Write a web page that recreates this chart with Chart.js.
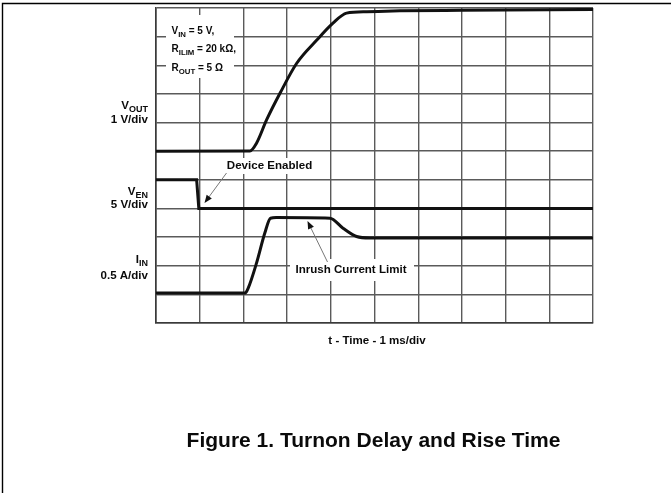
<!DOCTYPE html>
<html>
<head>
<meta charset="utf-8">
<script src="https://cdn.jsdelivr.net/npm/chart.js@4"></script>
<style>
  html, body { margin: 0; padding: 0; background: #fff; }
  canvas { display: block; }
</style>
</head>
<body>
<canvas id="scope" width="671" height="493"></canvas>
<script>
// time in ms (1 ms/div), values in physical units
const timeVout = [0, 2.15, 2.30, 2.53, 2.84, 3.22, 3.68, 4.05, 4.36, 4.82, 5.58, 7.0, 10];
const vOut     = [0, 0.01, 0.28, 1.09, 2.03, 3.07, 3.88, 4.47, 4.82, 4.87, 4.90, 4.92, 4.95];

const timeEn = [0, 0.93, 0.98, 10];
const vEn    = [5, 5, 0, 0];

const timeIn = [0, 2.04, 2.11, 2.30, 2.49, 2.62, 2.75, 3.98, 4.28, 4.59, 4.89, 10];
const iIn    = [0.025, 0.025, 0.11, 0.545, 1.07, 1.33, 1.34, 1.33, 1.155, 1.01, 0.985, 0.985];

// channel zero position (div) and scale (units per div)
const chZeroDiv = [6, 4, 1];
const chPerDiv  = [1, 5, 0.5];

const FONT = '"Liberation Sans", Arial, Helvetica, sans-serif';

function toDiv(times, vals, ch) {
    return times.map((t, i) => ({ x: t, y: chZeroDiv[ch] + vals[i] / chPerDiv[ch] }));
}

// bold text with optional subscripts, horizontally scaled by sx
function drawRich(ctx, parts, x, y, align, size, sx) {
    const subSize = size * 0.78;
    let total = 0;
    parts.forEach(p => {
        ctx.font = 'bold ' + (p[1] ? subSize : size) + 'px ' + FONT;
        total += ctx.measureText(p[0]).width * sx;
    });
    let cx = align === 'right' ? x - total : align === 'center' ? x - total / 2 : x;
    ctx.fillStyle = '#0a0a0a';
    ctx.textBaseline = 'alphabetic';
    ctx.textAlign = 'left';
    parts.forEach(p => {
        ctx.font = 'bold ' + (p[1] ? subSize : size) + 'px ' + FONT;
        const w = ctx.measureText(p[0]).width * sx;
        ctx.save();
        ctx.translate(cx, y + (p[1] ? size * 0.28 : 0));
        ctx.scale(sx, 1);
        ctx.fillText(p[0], 0, 0);
        ctx.restore();
        cx += w;
    });
}

function arrow(ctx, x1, y1, x2, y2) {
    const a = Math.atan2(y2 - y1, x2 - x1);
    const len = 8, hw = 3.2;
    ctx.save();
    ctx.strokeStyle = '#777';
    ctx.lineWidth = 1;
    ctx.beginPath();
    ctx.moveTo(x1, y1);
    ctx.lineTo(x2 - Math.cos(a) * len * 0.8, y2 - Math.sin(a) * len * 0.8);
    ctx.stroke();
    ctx.fillStyle = '#111';
    ctx.beginPath();
    ctx.moveTo(x2, y2);
    ctx.lineTo(x2 - Math.cos(a) * len - Math.sin(a) * hw, y2 - Math.sin(a) * len + Math.cos(a) * hw);
    ctx.lineTo(x2 - Math.cos(a) * len + Math.sin(a) * hw, y2 - Math.sin(a) * len - Math.cos(a) * hw);
    ctx.closePath();
    ctx.fill();
    ctx.restore();
}

const notes = {
    id: 'notes',
    beforeDatasetsDraw(chart) {
        const ctx = chart.ctx;
        ctx.save();
        ctx.fillStyle = '#fff';
        ctx.fillRect(166, 15, 68, 63);   // settings box
        ctx.fillRect(222, 158, 96, 16);  // device enabled
        ctx.fillRect(290, 259, 124, 22); // inrush
        ctx.restore();
    },
    afterDraw(chart) {
        const ctx = chart.ctx;
        // page frame
        ctx.save();
        ctx.strokeStyle = '#000';
        ctx.lineWidth = 1.4;
        ctx.beginPath();
        ctx.moveTo(2.5, 493);
        ctx.lineTo(2.5, 3.5);
        ctx.lineTo(671, 3.5);
        ctx.stroke();
        ctx.restore();

        drawRich(ctx, [['V'], ['IN', 1], [' = 5 V,']], 171.5, 34.3, 'left', 10, 1.0);
        drawRich(ctx, [['R'], ['ILIM', 1], [' = 20 k\u03A9,']], 171.5, 52.3, 'left', 10, 1.0);
        drawRich(ctx, [['R'], ['OUT', 1], [' = 5 \u03A9']], 171.5, 70.7, 'left', 10, 1.0);

        drawRich(ctx, [['V'], ['OUT', 1]], 148, 109, 'right', 10.5, 1.1);
        drawRich(ctx, [['1 V/div']], 148, 122.7, 'right', 10.5, 1.1);
        drawRich(ctx, [['V'], ['EN', 1]], 148, 195, 'right', 10.5, 1.1);
        drawRich(ctx, [['5 V/div']], 148, 208.3, 'right', 10.5, 1.1);
        drawRich(ctx, [['I'], ['IN', 1]], 148, 262.7, 'right', 10.5, 1.1);
        drawRich(ctx, [['0.5 A/div']], 148, 279.3, 'right', 10.5, 1.1);

        drawRich(ctx, [['Device Enabled']], 269.5, 169.3, 'center', 10.5, 1.1);
        drawRich(ctx, [['Inrush Current Limit']], 351, 273.3, 'center', 10.5, 1.1);
        arrow(ctx, 226.5, 173, 204.5, 203);
        arrow(ctx, 327.5, 262, 307.5, 221);

        drawRich(ctx, [['t - Time - 1 ms/div']], 377, 343.5, 'center', 10.5, 1.1);
        drawRich(ctx, [['Figure 1. Turnon Delay and Rise Time']], 373.5, 447, 'center', 21, 1.0);
    }
};

const trace = {
    showLine: true,
    pointRadius: 0,
    borderColor: '#111',
    borderWidth: 3,
    cubicInterpolationMode: 'monotone',
    fill: false
};

const ctx = document.getElementById('scope').getContext('2d');
const scope = new Chart(ctx, {
    type: 'scatter',
    data: {
        datasets: [
            Object.assign({ label: 'VOUT', data: toDiv(timeVout, vOut, 0) }, trace),
            Object.assign({ label: 'VEN', data: toDiv(timeEn, vEn, 1) }, trace, { cubicInterpolationMode: 'default', tension: 0 }),
            Object.assign({ label: 'IIN', data: toDiv(timeIn, iIn, 2) }, trace)
        ]
    },
    options: {
        responsive: false,
        animation: false,
        devicePixelRatio: 1,
        layout: { padding: { left: 156, top: 8, right: 78, bottom: 170 } },
        plugins: {
            legend: { display: false },
            tooltip: { enabled: false }
        },
        scales: {
            x: {
                type: 'linear', min: 0, max: 10,
                ticks: { display: false, stepSize: 1 },
                grid: { color: '#5a5a5a', lineWidth: 1.4, drawTicks: false },
                border: { color: '#3a3a3a', width: 1.6 }
            },
            y: {
                type: 'linear', min: 0, max: 11,
                ticks: { display: false, stepSize: 1 },
                grid: { color: '#5a5a5a', lineWidth: 1.4, drawTicks: false },
                border: { color: '#3a3a3a', width: 1.6 }
            }
        }
    },
    plugins: [notes]
});
</script>
</body>
</html>
